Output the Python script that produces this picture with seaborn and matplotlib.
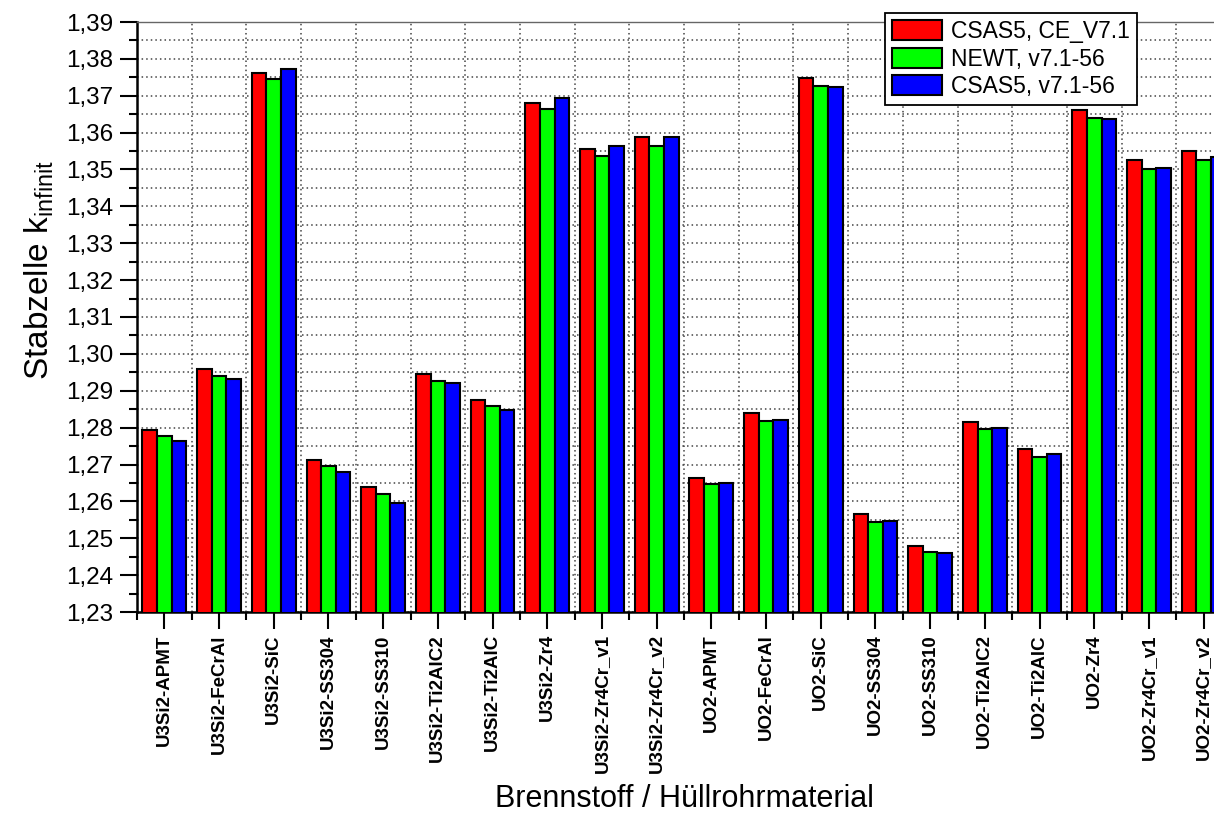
import matplotlib
matplotlib.use("Agg")
import matplotlib.pyplot as plt
from matplotlib import font_manager
from matplotlib.ticker import MultipleLocator, FixedLocator, FuncFormatter
import seaborn as sns
import pandas as pd

# Fuel / cladding combinations
categories = [
    "U3Si2-APMT", "U3Si2-FeCrAl", "U3Si2-SiC", "U3Si2-SS304", "U3Si2-SS310",
    "U3Si2-Ti2AlC2", "U3Si2-Ti2AlC", "U3Si2-Zr4", "U3Si2-Zr4Cr_v1", "U3Si2-Zr4Cr_v2",
    "UO2-APMT", "UO2-FeCrAl", "UO2-SiC", "UO2-SS304", "UO2-SS310",
    "UO2-Ti2AlC2", "UO2-Ti2AlC", "UO2-Zr4", "UO2-Zr4Cr_v1", "UO2-Zr4Cr_v2",
]

series_names = ["CSAS5, CE_V7.1", "NEWT, v7.1-56", "CSAS5, v7.1-56"]

# k-infinity of the pin cell for each code / library
csas5_ce = [1.2794, 1.2958, 1.3763, 1.2711, 1.2639, 1.2946, 1.2874, 1.3680, 1.3556, 1.3587,
            1.2664, 1.2841, 1.3749, 1.2565, 1.2480, 1.2814, 1.2743, 1.3660, 1.3525, 1.3551]
newt_mg = [1.2776, 1.2941, 1.3745, 1.2695, 1.2620, 1.2927, 1.2860, 1.3664, 1.3536, 1.3565,
           1.2648, 1.2818, 1.3727, 1.2545, 1.2463, 1.2795, 1.2720, 1.3641, 1.3500, 1.3527]
csas5_mg = [1.2763, 1.2932, 1.3773, 1.2680, 1.2596, 1.2920, 1.2847, 1.3694, 1.3565, 1.3588,
            1.2650, 1.2822, 1.3725, 1.2547, 1.2460, 1.2800, 1.2728, 1.3638, 1.3505, 1.3535]

colors = ["#ff0000", "#00ff00", "#0000ff"]

df = pd.DataFrame({
    "Brennstoff": categories * 3,
    "k": csas5_ce + newt_mg + csas5_mg,
    "Rechnung": [s for s in series_names for _ in categories],
})

available = {f.name for f in font_manager.fontManager.ttflist}
base_font = "Liberation Sans" if "Liberation Sans" in available else "DejaVu Sans"
narrow = "Liberation Sans Narrow" in available
plt.rcParams["font.family"] = [base_font, "DejaVu Sans"]
plt.rcParams["mathtext.fontset"] = "custom"
plt.rcParams["mathtext.rm"] = base_font

W, H = 1214, 816
fig = plt.figure(figsize=(W / 100, H / 100), dpi=100)
ax_left, ax_right, ax_top, ax_bottom = 137, 1231, 22, 612
ax = fig.add_axes([ax_left / W, (H - ax_bottom) / H,
                   (ax_right - ax_left) / W, (ax_bottom - ax_top) / H])

sns.barplot(data=df, x="Brennstoff", y="k", hue="Rechnung",
            order=categories, hue_order=series_names,
            palette=colors, saturation=1, width=0.8,
            edgecolor="black", linewidth=1.5, ax=ax, zorder=3)

ax.set_xlim(-0.5, len(categories) - 0.5)
ax.set_ylim(1.23, 1.39)

# y axis: major every 0.01, minor every 0.005, decimal comma
ax.yaxis.set_major_locator(MultipleLocator(0.01))
ax.yaxis.set_minor_locator(MultipleLocator(0.005))
ax.yaxis.set_major_formatter(FuncFormatter(lambda v, p: f"{v:.2f}".replace(".", ",")))

# x axis: labels at group centres, grid at group boundaries
ax.set_xticks(range(len(categories)))
ax.xaxis.set_minor_locator(FixedLocator([i + 0.5 for i in range(-1, len(categories))]))
if narrow:
    ax.set_xticklabels(categories, rotation=90, fontsize=16, fontweight="bold",
                       family=["Liberation Sans Narrow", base_font])
else:
    ax.set_xticklabels(categories, rotation=90, fontsize=13.5, fontweight="bold")

ax.tick_params(axis="both", which="major", direction="out", length=12, width=1.5, color="black")
ax.tick_params(axis="both", which="minor", direction="out", length=6, width=1.5, color="black")
ax.tick_params(axis="y", which="major", labelsize=17.5, pad=5)
ax.tick_params(axis="x", which="major", pad=4)

ax.set_axisbelow(True)
grid_style = dict(color="#444444", linestyle=(0, (1, 2)), linewidth=1.1)
ax.grid(False)
ax.grid(True, which="both", axis="y", **grid_style)
ax.grid(True, which="minor", axis="x", **grid_style)

for side in ("left", "bottom"):
    ax.spines[side].set_linewidth(1.8)
    ax.spines[side].set_color("black")
for side in ("top", "right"):
    ax.spines[side].set_linewidth(1.0)
    ax.spines[side].set_color("#666666")

ax.set_xlabel("Brennstoff / Hüllrohrmaterial", fontsize=22, labelpad=8)
ax.set_ylabel(r"Stabzelle k$_{\mathregular{infinit}}$", fontsize=24)
ax.yaxis.set_label_coords(-0.074, 0.58)

handles, labels = ax.get_legend_handles_labels()
leg = ax.legend(handles, labels, loc="upper right", bbox_to_anchor=(0.914, 1.015),
                borderaxespad=0, fontsize=16.5, frameon=True, fancybox=False,
                edgecolor="black", framealpha=1, handlelength=2.2, handleheight=0.95,
                labelspacing=0.2, handletextpad=0.4, borderpad=0.3)
leg.get_frame().set_linewidth(1.3)

fig.savefig("out.png", dpi=100)
